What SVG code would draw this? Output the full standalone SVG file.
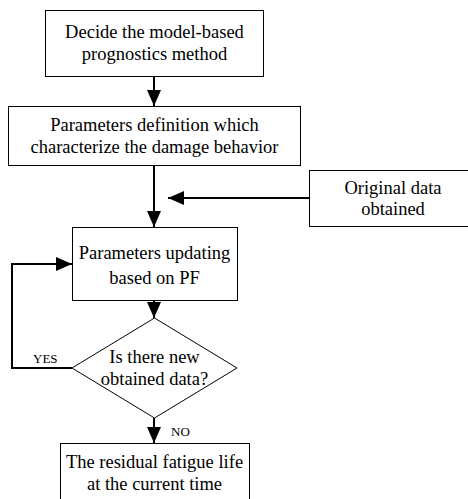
<svg xmlns="http://www.w3.org/2000/svg" width="468" height="499" viewBox="0 0 468 499">
<style>
.box{fill:#fff;stroke:#000;stroke-width:1}
.t{font-family:"Liberation Serif","Times New Roman",serif;font-size:18.5px;fill:#000;text-anchor:middle}
.s{font-family:"Liberation Serif","Times New Roman",serif;font-size:13px;fill:#000}
.c{fill:none;stroke:#000;stroke-width:2}
</style>
<defs>
<marker id="ah" markerUnits="userSpaceOnUse" markerWidth="16" markerHeight="16" viewBox="0 0 16 16" refX="16" refY="8" orient="auto">
<path d="M0,1 L16,8 L0,15 Z" fill="#000"/>
</marker>
</defs>
<rect width="468" height="499" fill="#fff"/>
<g id="connectors">
<line class="c" x1="154" y1="77" x2="154" y2="106" marker-end="url(#ah)"/>
<line class="c" x1="154" y1="166" x2="154" y2="227" marker-end="url(#ah)"/>
<line class="c" x1="309" y1="198" x2="168" y2="198" marker-end="url(#ah)"/>
<line class="c" x1="154" y1="300" x2="154" y2="318" marker-end="url(#ah)"/>
<polyline class="c" points="72,368 12,368 12,264 72,264" marker-end="url(#ah)"/>
<line class="c" x1="154" y1="418" x2="154" y2="443" marker-end="url(#ah)"/>
<text class="s" x="33" y="363">YES</text>
<text class="s" x="171" y="436">NO</text>
</g>
<g id="n1">
<rect class="box" x="45.5" y="10.5" width="218" height="66"/>
<text class="t" x="154.5" y="38">Decide the model-based</text>
<text class="t" x="154.5" y="60">prognostics method</text>
</g>
<g id="n2">
<rect class="box" x="8.5" y="106.5" width="292" height="59"/>
<text class="t" x="154.5" y="131">Parameters definition which</text>
<text class="t" x="154.5" y="153">characterize the damage behavior</text>
</g>
<g id="n3">
<rect class="box" x="309.5" y="170.5" width="170" height="56"/>
<text class="t" x="393" y="194">Original data</text>
<text class="t" x="393" y="215">obtained</text>
</g>
<g id="n4">
<rect class="box" x="72.5" y="227.5" width="165" height="73"/>
<text class="t" x="154.5" y="259">Parameters updating</text>
<text class="t" x="154.5" y="284">based on PF</text>
</g>
<g id="n5">
<polygon class="box" points="154.5,318 237,368 154.5,418 72,368"/>
<text class="t" x="154.5" y="363">Is there new</text>
<text class="t" x="154.5" y="385">obtained data?</text>
</g>
<g id="n6">
<rect class="box" x="60.5" y="443.5" width="189" height="70"/>
<text class="t" x="154.5" y="468">The residual fatigue life</text>
<text class="t" x="154.5" y="490">at the current time</text>
</g>
</svg>
